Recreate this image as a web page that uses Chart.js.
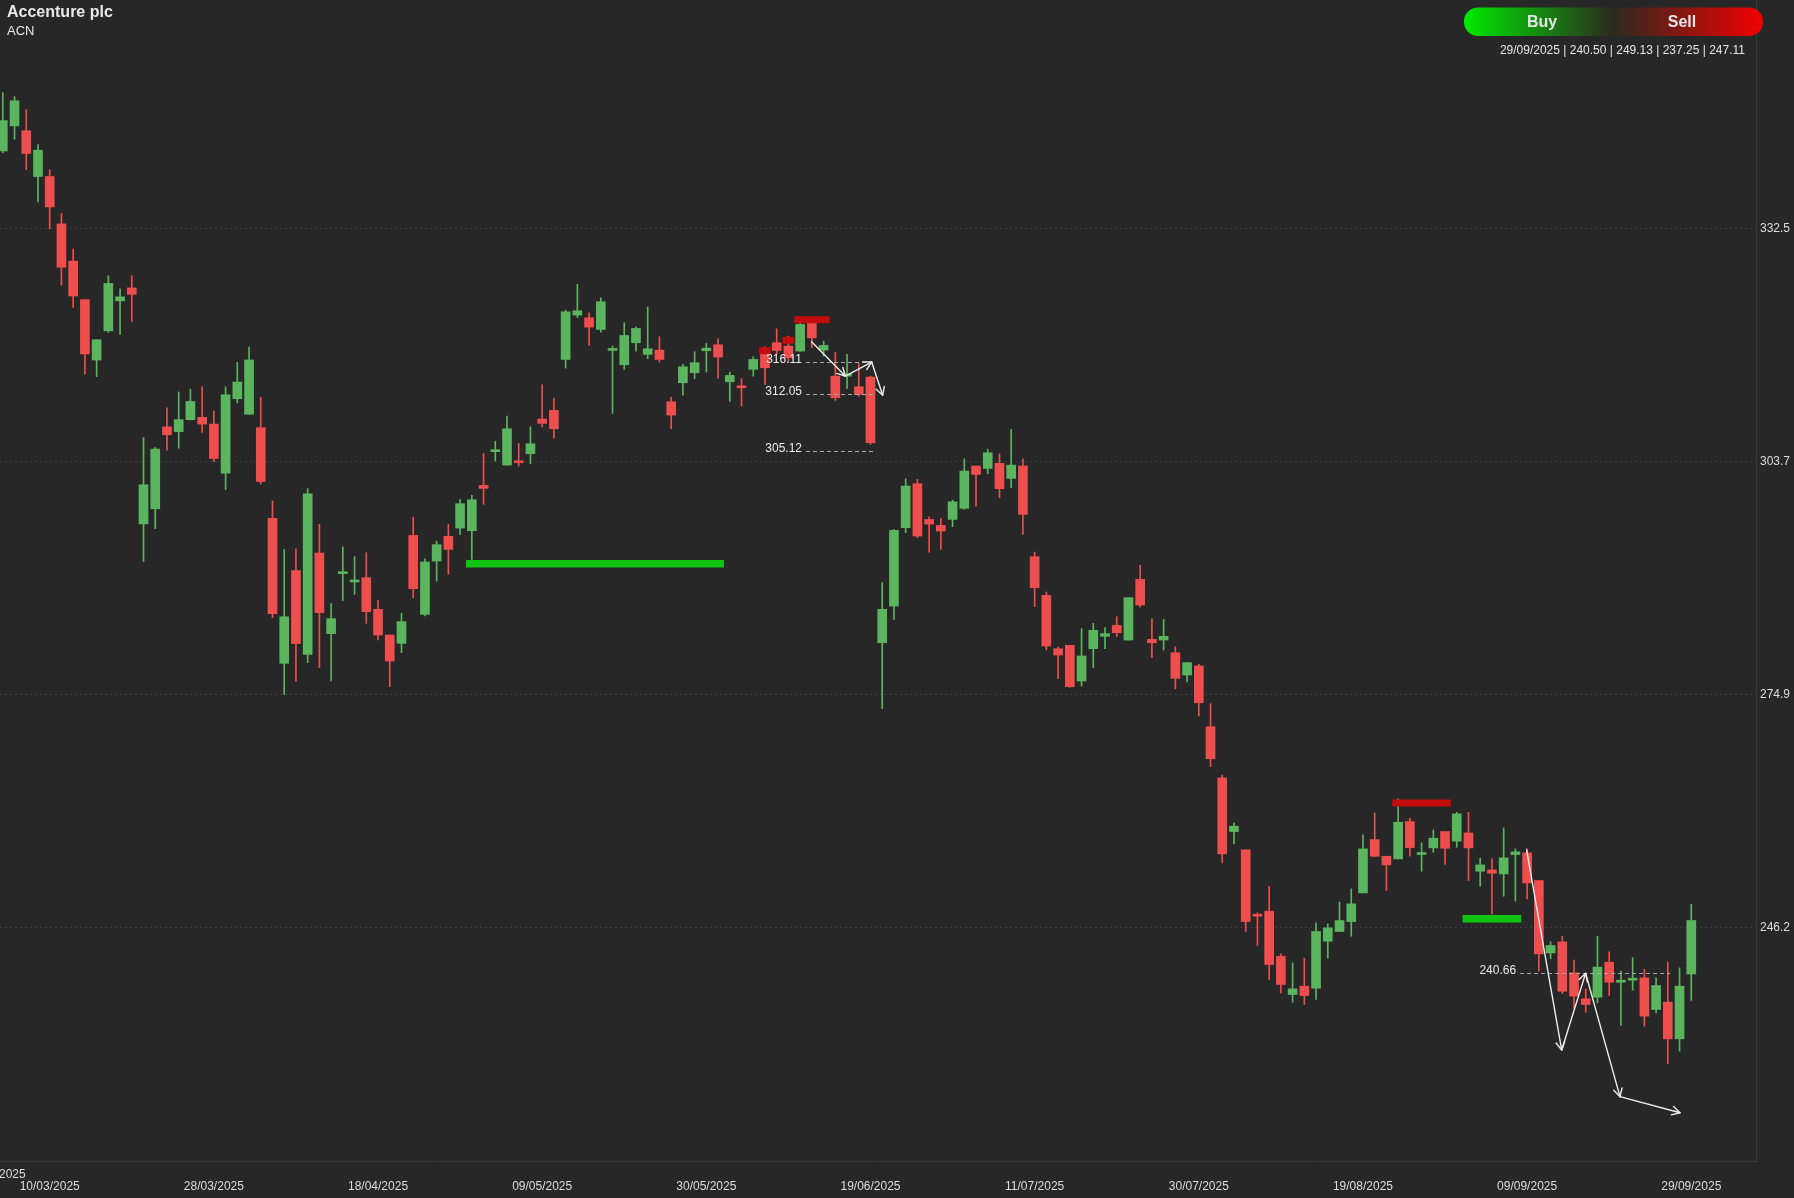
<!DOCTYPE html>
<html><head><meta charset="utf-8">
<script src="https://cdn.jsdelivr.net/npm/chart.js@4.4.1/dist/chart.umd.min.js"></script>
<style>
html,body{margin:0;padding:0;background:#272727;overflow:hidden;}
#wrap{width:1794px;height:1198px;position:relative;}
canvas{display:block;}
</style></head><body>
<div id="wrap"><canvas id="c" width="1794" height="1198"></canvas></div>
<script>
// ---- DATA ----
const openP = [342.1,345.2,344.6,338.95,338.95,333.1,328.5,323.75,316.3,319.9,323.6,325.2,296.07,297.93,308.05,307.46,308.93,309.22,308.39,302.33,
311.52,309.6,307.95,296.75,278.86,290.3,279.97,292.47,282.52,289.92,288.9,289.43,285.52,282.35,281.32,294.65,284.9,291.48,294.53,295.55,
295.23,300.82,304.98,303.33,303.86,304.73,309.0,310.08,316.37,321.84,321.51,320.07,317.48,315.71,318.43,317.0,317.52,311.15,313.49,314.72,
317.44,318.18,313.61,313.04,315.14,317.4,318.43,318.02,317.4,320.9,317.52,314.31,314.31,313.0,314.19,281.4,285.93,295.6,301.03,296.62,
295.88,296.62,297.98,303.21,302.92,303.54,301.68,303.21,292.02,287.25,280.66,281.08,276.67,280.66,282.19,283.54,281.73,289.22,281.82,281.73,
280.17,277.41,278.53,271.03,264.71,258.09,255.83,247.8,248.26,242.7,237.97,239.0,238.75,244.55,245.75,246.98,250.52,257.1,255.04,254.72,
259.32,255.25,256.07,258.09,256.9,257.92,253.19,253.36,252.86,255.25,255.46,252.04,243.11,244.47,240.65,237.44,237.64,241.96,239.49,239.74,
240.03,236.12,237.03,232.5,240.50];
const highP = [349.3,348.8,347.2,342.9,339.8,334.4,330.0,323.75,318.8,326.7,325.1,326.7,306.73,305.5,310.4,312.35,312.7,312.99,310.0,313.0,
316.0,317.9,311.7,298.9,292.9,293.0,300.41,296.01,286.22,293.25,292.02,292.51,286.63,282.35,285.02,296.91,291.77,293.95,296.01,299.09,
299.59,304.73,306.29,309.38,306.0,308.06,313.24,311.56,322.46,325.63,322.13,323.98,318.02,320.9,320.4,322.83,319.17,311.72,315.75,317.32,
318.34,318.92,314.81,313.98,316.7,317.93,320.15,319.25,321.39,321.51,318.63,317.27,316.99,315.88,314.31,288.81,295.39,301.64,301.56,296.95,
296.75,299.01,304.11,303.21,305.26,304.73,307.73,304.11,292.59,287.66,280.87,281.08,283.13,283.79,283.26,284.61,286.96,290.95,284.37,284.28,
280.91,278.94,278.73,273.87,265.08,259.16,255.83,248.05,251.34,242.99,241.88,242.46,246.82,246.69,249.37,251.01,257.68,260.39,255.04,262.12,
259.73,256.69,258.29,258.09,260.47,260.47,254.8,254.72,258.54,255.95,255.95,252.04,244.47,245.17,242.21,238.67,245.17,243.24,240.85,242.5,
241.06,240.03,241.96,241.26,249.13];
const lowP = [341.9,343.55,339.8,335.8,332.5,325.55,322.8,314.55,314.25,319.7,319.45,321.05,291.42,295.48,305.17,305.41,308.9,307.37,303.75,300.3,
311.0,309.6,301.0,284.5,275.0,276.65,278.94,278.32,276.67,286.63,287.37,283.79,281.73,275.97,280.17,286.96,284.7,289.01,289.84,294.77,
291.69,298.48,303.82,303.33,303.2,303.5,308.02,306.66,315.3,321.55,318.09,319.74,309.7,315.14,317.4,316.45,316.04,307.81,311.97,313.98,
314.81,314.07,311.19,310.61,314.31,313.28,317.0,316.16,317.4,317.81,316.78,311.31,312.79,311.84,305.88,273.26,284.28,294.98,294.36,292.59,
292.92,295.72,297.86,298.27,302.26,299.3,300.53,294.77,285.85,280.5,276.96,275.9,276.06,278.32,280.66,282.14,281.73,285.81,279.55,280.5,
275.73,276.55,272.35,266.1,254.22,256.57,245.75,244.02,239.82,238.14,237.03,236.74,237.36,242.46,245.75,245.17,250.52,255.04,250.81,254.72,
255.04,253.19,255.54,254.02,256.15,252.04,251.34,247.93,250.11,249.49,249.78,240.85,242.37,238.1,236.2,235.79,236.94,237.85,234.15,238.51,
234.07,235.71,229.42,230.98,237.25];
const closeP = [345.85,348.3,341.8,342.2,335.2,327.75,324.2,317.05,318.8,325.75,324.1,324.4,300.9,305.31,307.07,308.93,311.18,308.39,304.14,312.0,
313.58,316.3,301.3,285.0,284.6,281.3,299.79,285.11,284.37,290.0,289.0,285.23,282.35,279.14,284.0,288.07,291.36,293.5,292.92,298.56,
299.05,300.45,305.22,307.81,303.62,305.96,308.47,307.81,322.25,322.38,320.36,323.49,317.69,319.33,320.2,317.69,316.37,309.5,315.47,315.96,
317.77,316.66,314.4,312.87,316.37,315.34,317.48,316.58,320.69,319.04,318.1,311.64,314.48,312.05,306.09,285.52,295.27,300.74,294.57,296.05,
295.18,298.8,302.59,302.18,304.85,300.41,303.33,297.24,288.19,280.99,279.88,275.97,279.76,282.93,282.52,282.64,286.96,286.05,281.4,282.19,
277.0,278.94,273.99,267.08,255.33,258.75,246.98,247.64,241.68,239.21,238.67,237.85,245.75,246.2,247.1,249.16,255.95,255.04,253.97,259.24,
256.11,255.41,257.27,256.03,260.27,256.07,253.97,252.95,254.84,255.58,251.75,242.99,244.02,238.38,237.77,236.74,241.35,239.49,239.66,239.91,
235.3,239.08,232.5,239.0,247.11];

const xTickIndex = [4,18,32,46,60,74,88,102,116,130,144];
const xTickLabels = ['10/03/2025','28/03/2025','18/04/2025','09/05/2025','30/05/2025','19/06/2025','11/07/2025','30/07/2025','19/08/2025','09/09/2025','29/09/2025'];
const yTickValues = [246.19,274.96,303.73,332.5];
const yTickLabels = ['246.2','274.9','303.7','332.5'];

const levelValues = [316.11,312.05,305.12,240.66];
const levelFrom = [68.5,68.5,68.5,129.4];
const levelTo = [74.4,74.4,74.4,142.2];

const supportValue = [291.14,247.32];
const supportFrom = [39.5,124.5];
const supportTo = [61.5,129.5];

const resistValue = [321.27,261.61,317.45,318.73];
const resistFrom = [67.5,118.5,64.5,66.5];
const resistTo = [70.5,123.5,65.5,67.5];

const arrowX1 = [68.98,71.85,74.10,75.04];
const arrowY1 = [318.56,314.32,316.05,311.94];
const arrowX2 = [129.96,132.95,134.99,137.92,143.04];
const arrowY2 = [255.81,231.12,240.59,225.36,223.38];

const lastInfo = '29/09/2025 | 240.50 | 249.13 | 237.25 | 247.11';

// ---- STYLE ----
const FONT = 'Arial, "Liberation Sans", Helvetica, sans-serif';
const GREEN = '#5bb55f', RED = '#ef4e4e';
const BG = '#272727';
const TXT = '#dedede';

const idx = openP.map((_, i) => i);
const up = idx.map(i => closeP[i] >= openP[i]);
const candleColors = idx.map(i => up[i] ? GREEN : RED);

const datasets = [
  { type: 'bar', label: 'wick', data: idx.map(i => ({ x: i, y: [lowP[i], highP[i]] })),
    backgroundColor: candleColors, barThickness: 1, grouped: false, order: 3, borderWidth: 0 },
  { type: 'bar', label: 'body', data: idx.map(i => ({ x: i, y: [openP[i], closeP[i]] })),
    backgroundColor: candleColors, barThickness: 9, grouped: false, minBarLength: 2, order: 2, borderWidth: 0 }
];
supportValue.forEach((v, k) => datasets.push({
  type: 'line', label: 'support' + k, data: [{ x: supportFrom[k], y: v }, { x: supportTo[k], y: v }],
  borderColor: '#12c412', borderWidth: 7.5, pointRadius: 0, borderCapStyle: 'butt', order: 1
}));
resistValue.forEach((v, k) => datasets.push({
  type: 'line', label: 'resist' + k, data: [{ x: resistFrom[k], y: v }, { x: resistTo[k], y: v }],
  borderColor: '#c40c0c', borderWidth: 7, pointRadius: 0, borderCapStyle: 'butt', order: 1
}));

function drawArrow(ctx, x0, y0, x1, y1) {
  ctx.beginPath(); ctx.moveTo(x0, y0); ctx.lineTo(x1, y1); ctx.stroke();
  const a = Math.atan2(y1 - y0, x1 - x0), L = 9, s = 0.5;
  ctx.beginPath();
  ctx.moveTo(x1 - L * Math.cos(a - s), y1 - L * Math.sin(a - s));
  ctx.lineTo(x1, y1);
  ctx.lineTo(x1 - L * Math.cos(a + s), y1 - L * Math.sin(a + s));
  ctx.stroke();
}

const overlay = {
  id: 'overlay',
  beforeDraw(chart) {
    const ctx = chart.ctx;
    ctx.save(); ctx.fillStyle = BG; ctx.fillRect(0, 0, chart.width, chart.height); ctx.restore();
  },
  afterDatasetsDraw(chart) {
    const { ctx, scales: { x, y } } = chart;
    ctx.save();
    ctx.font = '12px ' + FONT; ctx.textAlign = 'right'; ctx.textBaseline = 'alphabetic';
    levelValues.forEach((v, k) => {
      const py = Math.round(y.getPixelForValue(v)) + 0.5;
      const x0 = x.getPixelForValue(levelFrom[k]), x1 = x.getPixelForValue(levelTo[k]);
      ctx.setLineDash([4, 3]); ctx.strokeStyle = '#a8a8a8'; ctx.lineWidth = 1;
      ctx.beginPath(); ctx.moveTo(x0, py); ctx.lineTo(x1, py); ctx.stroke();
      ctx.setLineDash([]); ctx.fillStyle = '#ececec';
      ctx.fillText(v.toFixed(2), x0 - 4, py + 0.5);
    });
    ctx.strokeStyle = '#ececec'; ctx.lineWidth = 1.4; ctx.lineCap = 'round'; ctx.lineJoin = 'round';
    [[arrowX1, arrowY1], [arrowX2, arrowY2]].forEach(([ax, ay]) => {
      for (let i = 0; i < ax.length - 1; i++) {
        drawArrow(ctx, x.getPixelForValue(ax[i]), y.getPixelForValue(ay[i]),
          x.getPixelForValue(ax[i + 1]), y.getPixelForValue(ay[i + 1]));
      }
    });
    ctx.restore();
  },
  afterDraw(chart) {
    const ctx = chart.ctx;
    ctx.save();
    ctx.fillStyle = '#e8e8e8'; ctx.textAlign = 'left'; ctx.textBaseline = 'top';
    ctx.font = 'bold 16px ' + FONT; ctx.fillText('Accenture plc', 7, 4.5);
    ctx.font = '13px ' + FONT; ctx.fillText('ACN', 7, 24.5);
    const lx = 1464, ly = 7.5, lw = 299, lh = 28.5;
    const g = ctx.createLinearGradient(lx, 0, lx + lw, 0);
    g.addColorStop(0, '#00ea00'); g.addColorStop(0.5, '#2c2a1f'); g.addColorStop(1, '#f20000');
    ctx.fillStyle = g;
    ctx.beginPath(); ctx.roundRect(lx, ly, lw, lh, 14); ctx.fill();
    ctx.fillStyle = '#e6e6e6'; ctx.font = 'bold 16px ' + FONT; ctx.textAlign = 'center'; ctx.textBaseline = 'middle';
    ctx.fillText('Buy', 1542, ly + lh / 2 + 0.5);
    ctx.fillText('Sell', 1682, ly + lh / 2 + 0.5);
    ctx.font = '12px ' + FONT; ctx.textAlign = 'right'; ctx.fillStyle = '#e6e6e6';
    ctx.fillText(lastInfo, 1745, 51);
    ctx.textAlign = 'left'; ctx.fillStyle = TXT;
    ctx.fillText('2025', -1, 1175);
    ctx.restore();
  }
};

new Chart(document.getElementById('c'), {
  type: 'bar',
  data: { datasets },
  options: {
    responsive: false, animation: false, devicePixelRatio: 1,
    layout: { padding: 0 },
    plugins: { legend: { display: false }, tooltip: { enabled: false }, title: { display: false } },
    scales: {
      x: {
        type: 'linear', position: 'bottom', min: -0.24, max: 149.52, offset: false,
        grid: { display: false, drawTicks: false },
        border: { display: true, color: '#3a3a3a', width: 1 },
        afterBuildTicks: s => { s.ticks = xTickIndex.map(v => ({ value: v })); },
        afterFit: s => { s.height = 37; s.paddingLeft = 0; s.paddingRight = 0; },
        ticks: {
          autoSkip: false, maxRotation: 0, minRotation: 0, padding: 18, color: TXT,
          font: { family: FONT, size: 12 },
          callback: v => { const k = xTickIndex.indexOf(v); return k >= 0 ? xTickLabels[k] : ''; }
        }
      },
      y: {
        type: 'linear', position: 'right', min: 217.42, max: 360.74,
        grid: { color: '#3f3f3f', drawTicks: false, lineWidth: 1 },
        border: { display: true, color: '#3a3a3a', width: 1, dash: [2, 3] },
        afterBuildTicks: s => { s.ticks = yTickValues.map(v => ({ value: v })); },
        afterFit: s => { s.width = 38; s.paddingTop = 0; s.paddingBottom = 0; },
        ticks: {
          padding: 4, color: TXT, font: { family: FONT, size: 12 },
          callback: v => { const k = yTickValues.indexOf(v); return k >= 0 ? yTickLabels[k] : ''; }
        }
      }
    }
  },
  plugins: [overlay]
});
</script>
</body></html>
